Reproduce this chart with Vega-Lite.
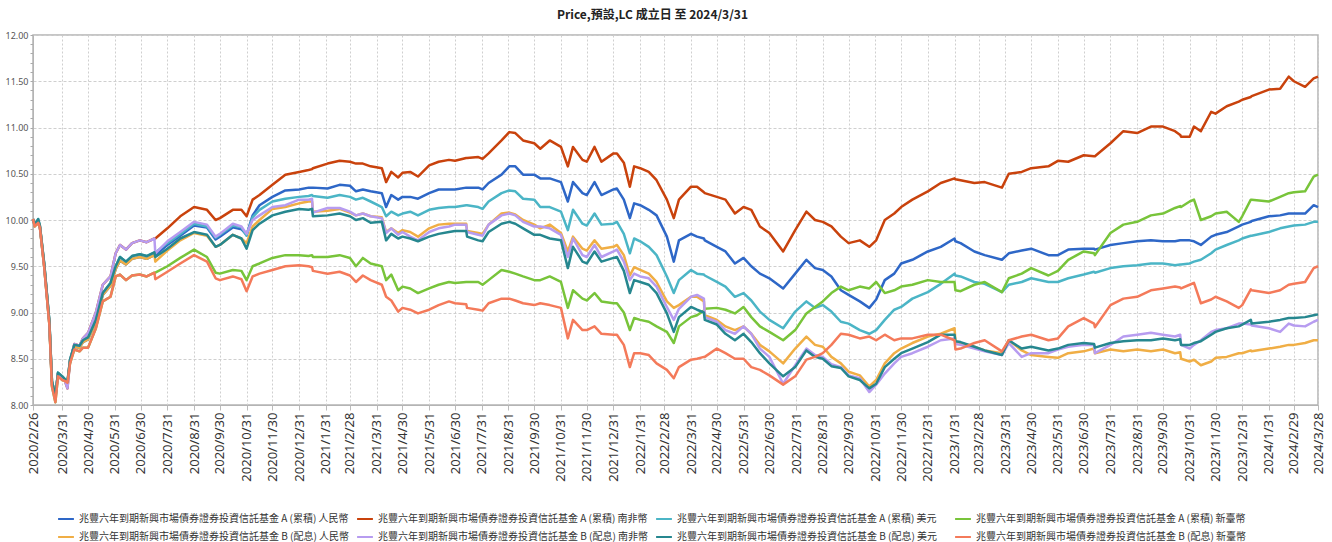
{
"$schema": "https://vega.github.io/schema/vega-lite/v6.json",
"width": 1285, "height": 370,
"autosize": {"type": "none"},
"padding": {"left": 33, "top": 35, "right": 14, "bottom": 137},
"background": "white",
"config": {"view": {"stroke": "#b4b4b4", "strokeWidth": 1.5}, "font": "Noto Sans"},
"title": {"text": "Price,預設,LC 成立日 至 2024/3/31", "font": "Noto Sans CJK TC", "fontSize": 12, "fontWeight": "bold", "color": "#222", "anchor": "middle", "dx": -23, "offset": 9},
"datasets": {"names": [
 {"k": "A1", "name": "兆豐六年到期新興市場債券證券投資信託基金 A (累積) 人民幣"},
 {"k": "A2", "name": "兆豐六年到期新興市場債券證券投資信託基金 A (累積) 南非幣"},
 {"k": "A3", "name": "兆豐六年到期新興市場債券證券投資信託基金 A (累積) 美元"},
 {"k": "A4", "name": "兆豐六年到期新興市場債券證券投資信託基金 A (累積) 新臺幣"},
 {"k": "B1", "name": "兆豐六年到期新興市場債券證券投資信託基金 B (配息) 人民幣"},
 {"k": "B2", "name": "兆豐六年到期新興市場債券證券投資信託基金 B (配息) 南非幣"},
 {"k": "B3", "name": "兆豐六年到期新興市場債券證券投資信託基金 B (配息) 美元"},
 {"k": "B4", "name": "兆豐六年到期新興市場債券證券投資信託基金 B (配息) 新臺幣"}
]},
"data": {"values": [
{"d":"2020-02-26","A1":10.01,"A2":10.01,"A3":10.01,"A4":10.01,"B1":10.01,"B2":10.01,"B3":10.01,"B4":10.01},
{"d":"2020-02-28","A1":9.95,"A2":9.94,"A3":9.95,"A4":9.93,"B1":9.95,"B2":9.94,"B3":9.95,"B4":9.93},
{"d":"2020-03-03","A1":9.99,"A2":9.98,"A3":10.01,"A4":9.97,"B1":9.99,"B2":9.98,"B3":10.01,"B4":9.97},
{"d":"2020-03-05","A1":9.93,"A2":9.92,"A3":9.94,"A4":9.92,"B1":9.93,"B2":9.92,"B3":9.94,"B4":9.92},
{"d":"2020-03-10","A1":9.52,"A2":9.50,"A3":9.53,"A4":9.49,"B1":9.52,"B2":9.50,"B3":9.53,"B4":9.49},
{"d":"2020-03-16","A1":8.90,"A2":8.88,"A3":8.91,"A4":8.87,"B1":8.90,"B2":8.88,"B3":8.91,"B4":8.87},
{"d":"2020-03-19","A1":8.25,"A2":8.22,"A3":8.26,"A4":8.20,"B1":8.25,"B2":8.22,"B3":8.26,"B4":8.20},
{"d":"2020-03-23","A1":8.10,"A2":8.07,"A3":8.10,"A4":8.03,"B1":8.10,"B2":8.07,"B3":8.10,"B4":8.03},
{"d":"2020-03-26","A1":8.34,"A2":8.34,"A3":8.35,"A4":8.31,"B1":8.34,"B2":8.34,"B3":8.35,"B4":8.31},
{"d":"2020-03-31","A1":8.30,"A2":8.28,"A3":8.31,"A4":8.27,"B1":8.30,"B2":8.28,"B3":8.31,"B4":8.27},
{"d":"2020-04-03","A1":8.27,"A2":8.26,"A3":8.28,"A4":8.26,"B1":8.27,"B2":8.26,"B3":8.28,"B4":8.26},
{"d":"2020-04-06","A1":8.24,"A2":8.18,"A3":8.25,"A4":8.24,"B1":8.24,"B2":8.18,"B3":8.25,"B4":8.24},
{"d":"2020-04-09","A1":8.48,"A2":8.47,"A3":8.49,"A4":8.45,"B1":8.48,"B2":8.47,"B3":8.49,"B4":8.45},
{"d":"2020-04-14","A1":8.63,"A2":8.66,"A3":8.65,"A4":8.60,"B1":8.63,"B2":8.66,"B3":8.65,"B4":8.60},
{"d":"2020-04-20","A1":8.62,"A2":8.64,"A3":8.64,"A4":8.58,"B1":8.62,"B2":8.64,"B3":8.64,"B4":8.58},
{"d":"2020-04-24","A1":8.68,"A2":8.72,"A3":8.70,"A4":8.62,"B1":8.68,"B2":8.72,"B3":8.70,"B4":8.62},
{"d":"2020-04-30","A1":8.71,"A2":8.78,"A3":8.73,"A4":8.62,"B1":8.71,"B2":8.78,"B3":8.73,"B4":8.62},
{"d":"2020-05-09","A1":8.90,"A2":9.00,"A3":8.92,"A4":8.83,"B1":8.90,"B2":9.00,"B3":8.92,"B4":8.83},
{"d":"2020-05-17","A1":9.19,"A2":9.30,"A3":9.21,"A4":9.12,"B1":9.19,"B2":9.30,"B3":9.21,"B4":9.12},
{"d":"2020-05-26","A1":9.29,"A2":9.39,"A3":9.32,"A4":9.17,"B1":9.29,"B2":9.39,"B3":9.32,"B4":9.17},
{"d":"2020-06-01","A1":9.47,"A2":9.64,"A3":9.50,"A4":9.39,"B1":9.47,"B2":9.64,"B3":9.50,"B4":9.39},
{"d":"2020-06-06","A1":9.56,"A2":9.73,"A3":9.60,"A4":9.41,"B1":9.56,"B2":9.73,"B3":9.60,"B4":9.41},
{"d":"2020-06-13","A1":9.52,"A2":9.68,"A3":9.55,"A4":9.35,"B1":9.52,"B2":9.68,"B3":9.55,"B4":9.35},
{"d":"2020-06-20","A1":9.58,"A2":9.75,"A3":9.61,"A4":9.40,"B1":9.58,"B2":9.75,"B3":9.61,"B4":9.40},
{"d":"2020-06-29","A1":9.60,"A2":9.78,"A3":9.63,"A4":9.41,"B1":9.60,"B2":9.78,"B3":9.63,"B4":9.41},
{"d":"2020-07-07","A1":9.58,"A2":9.76,"A3":9.61,"A4":9.39,"B1":9.58,"B2":9.76,"B3":9.61,"B4":9.39},
{"d":"2020-07-16","A1":9.62,"A2":9.80,"A3":9.65,"A4":9.43,"B1":9.62,"B2":9.80,"B3":9.65,"B4":9.43},
{"d":"2020-07-17","A2":9.80,"A1":9.62,"A3":9.65,"A4":9.43,"B1":9.55,"B2":9.64,"B3":9.60,"B4":9.36},
{"d":"2020-07-31","A2":9.91,"A1":9.73,"A3":9.75,"A4":9.50,"B1":9.67,"B2":9.77,"B3":9.69,"B4":9.44},
{"d":"2020-08-15","A2":10.04,"A1":9.83,"A3":9.85,"A4":9.59,"B1":9.78,"B2":9.87,"B3":9.80,"B4":9.53},
{"d":"2020-08-31","A2":10.14,"A1":9.94,"A3":9.96,"A4":9.68,"B1":9.86,"B2":9.98,"B3":9.87,"B4":9.62},
{"d":"2020-09-15","A2":10.11,"A1":9.92,"A3":9.93,"A4":9.60,"B1":9.83,"B2":9.95,"B3":9.84,"B4":9.55},
{"d":"2020-09-25","A2":10.00,"A1":9.79,"A3":9.81,"A4":9.43,"B1":9.71,"B2":9.82,"B3":9.71,"B4":9.37},
{"d":"2020-09-30","A2":10.02,"A1":9.82,"A3":9.84,"A4":9.42,"B1":9.73,"B2":9.85,"B3":9.73,"B4":9.35},
{"d":"2020-10-15","A2":10.11,"A1":9.92,"A3":9.94,"A4":9.46,"B1":9.84,"B2":9.96,"B3":9.84,"B4":9.39},
{"d":"2020-10-25","A2":10.11,"A1":9.90,"A3":9.92,"A4":9.45,"B1":9.80,"B2":9.93,"B3":9.80,"B4":9.36},
{"d":"2020-10-31","A2":10.04,"A1":9.84,"A3":9.83,"A4":9.35,"B1":9.75,"B2":9.85,"B3":9.69,"B4":9.23},
{"d":"2020-11-07","A2":10.22,"A1":10.05,"A3":10.03,"A4":9.50,"B1":9.93,"B2":10.00,"B3":9.89,"B4":9.39},
{"d":"2020-11-15","A2":10.27,"A1":10.16,"A3":10.11,"A4":9.53,"B1":10.00,"B2":10.05,"B3":9.96,"B4":9.42},
{"d":"2020-11-30","A2":10.38,"A1":10.25,"A3":10.20,"A4":9.59,"B1":10.12,"B2":10.14,"B3":10.05,"B4":9.46},
{"d":"2020-12-15","A2":10.49,"A1":10.32,"A3":10.23,"A4":9.62,"B1":10.14,"B2":10.16,"B3":10.09,"B4":9.50},
{"d":"2020-12-31","A2":10.52,"A1":10.33,"A3":10.25,"A4":9.62,"B1":10.18,"B2":10.22,"B3":10.12,"B4":9.51},
{"d":"2021-01-11","A2":10.54,"A1":10.35,"A3":10.26,"A4":9.61,"B1":10.20,"B2":10.22,"B3":10.11,"B4":9.50},
{"d":"2021-01-15","A2":10.55,"A1":10.35,"A3":10.27,"A4":9.62,"B1":10.20,"B2":10.23,"B3":10.12,"B4":9.49},
{"d":"2021-01-16","A2":10.56,"A1":10.35,"A3":10.26,"A4":9.60,"B1":10.09,"B2":10.08,"B3":10.04,"B4":9.45},
{"d":"2021-02-02","A2":10.61,"A1":10.34,"A3":10.24,"A4":9.60,"B1":10.10,"B2":10.13,"B3":10.05,"B4":9.42},
{"d":"2021-02-16","A2":10.64,"A1":10.38,"A3":10.27,"A4":9.62,"B1":10.12,"B2":10.13,"B3":10.07,"B4":9.44},
{"d":"2021-02-28","A2":10.63,"A1":10.37,"A3":10.25,"A4":9.59,"B1":10.08,"B2":10.09,"B3":10.04,"B4":9.40},
{"d":"2021-03-07","A2":10.61,"A1":10.31,"A3":10.22,"A4":9.50,"B1":10.05,"B2":10.05,"B3":10.00,"B4":9.33},
{"d":"2021-03-15","A2":10.61,"A1":10.33,"A3":10.24,"A4":9.59,"B1":10.07,"B2":10.07,"B3":10.02,"B4":9.40},
{"d":"2021-03-24","A2":10.58,"A1":10.31,"A3":10.20,"A4":9.53,"B1":10.04,"B2":10.04,"B3":9.97,"B4":9.35},
{"d":"2021-04-06","A2":10.56,"A1":10.29,"A3":10.14,"A4":9.50,"B1":10.03,"B2":10.02,"B3":9.98,"B4":9.30},
{"d":"2021-04-11","A2":10.41,"A1":10.14,"A3":10.04,"A4":9.35,"B1":9.87,"B2":9.86,"B3":9.78,"B4":9.17},
{"d":"2021-04-17","A2":10.52,"A1":10.27,"A3":10.09,"A4":9.41,"B1":9.91,"B2":9.91,"B3":9.85,"B4":9.13},
{"d":"2021-04-25","A2":10.46,"A1":10.22,"A3":10.05,"A4":9.24,"B1":9.86,"B2":9.84,"B3":9.80,"B4":9.01},
{"d":"2021-04-30","A2":10.51,"A1":10.25,"A3":10.07,"A4":9.28,"B1":9.89,"B2":9.87,"B3":9.82,"B4":9.05},
{"d":"2021-05-09","A2":10.52,"A1":10.25,"A3":10.09,"A4":9.26,"B1":9.87,"B2":9.82,"B3":9.80,"B4":9.03},
{"d":"2021-05-18","A2":10.47,"A1":10.23,"A3":10.05,"A4":9.21,"B1":9.82,"B2":9.78,"B3":9.77,"B4":8.99},
{"d":"2021-05-31","A2":10.59,"A1":10.29,"A3":10.11,"A4":9.26,"B1":9.91,"B2":9.87,"B3":9.82,"B4":9.03},
{"d":"2021-06-11","A2":10.63,"A1":10.33,"A3":10.13,"A4":9.30,"B1":9.95,"B2":9.91,"B3":9.85,"B4":9.08},
{"d":"2021-06-23","A2":10.65,"A1":10.33,"A3":10.14,"A4":9.33,"B1":9.96,"B2":9.93,"B3":9.87,"B4":9.12},
{"d":"2021-06-30","A2":10.64,"A1":10.33,"A3":10.14,"A4":9.32,"B1":9.96,"B2":9.95,"B3":9.88,"B4":9.10},
{"d":"2021-07-13","A2":10.67,"A1":10.35,"A3":10.16,"A4":9.33,"B1":9.96,"B2":9.95,"B3":9.88,"B4":9.09},
{"d":"2021-07-14","A2":10.67,"A1":10.35,"A3":10.16,"A4":9.33,"B1":9.88,"B2":9.87,"B3":9.82,"B4":9.05},
{"d":"2021-07-27","A2":10.68,"A1":10.35,"A3":10.14,"A4":9.33,"B1":9.86,"B2":9.84,"B3":9.78,"B4":9.03},
{"d":"2021-08-01","A2":10.66,"A1":10.33,"A3":10.12,"A4":9.30,"B1":9.85,"B2":9.83,"B3":9.77,"B4":9.02},
{"d":"2021-08-08","A2":10.72,"A1":10.40,"A3":10.20,"A4":9.35,"B1":9.95,"B2":9.95,"B3":9.87,"B4":9.10},
{"d":"2021-08-23","A2":10.86,"A1":10.49,"A3":10.29,"A4":9.46,"B1":10.07,"B2":10.05,"B3":9.96,"B4":9.15},
{"d":"2021-09-01","A2":10.95,"A1":10.58,"A3":10.32,"A4":9.44,"B1":10.08,"B2":10.07,"B3":9.98,"B4":9.15},
{"d":"2021-09-08","A2":10.94,"A1":10.58,"A3":10.31,"A4":9.42,"B1":10.06,"B2":10.05,"B3":9.96,"B4":9.13},
{"d":"2021-09-17","A2":10.86,"A1":10.49,"A3":10.23,"A4":9.39,"B1":10.00,"B2":9.98,"B3":9.91,"B4":9.10},
{"d":"2021-09-30","A2":10.83,"A1":10.49,"A3":10.22,"A4":9.35,"B1":9.95,"B2":9.93,"B3":9.84,"B4":9.08},
{"d":"2021-10-07","A2":10.77,"A1":10.45,"A3":10.14,"A4":9.35,"B1":9.91,"B2":9.93,"B3":9.84,"B4":9.10},
{"d":"2021-10-18","A2":10.86,"A1":10.45,"A3":10.14,"A4":9.39,"B1":9.95,"B2":9.91,"B3":9.80,"B4":9.08},
{"d":"2021-10-31","A2":10.79,"A1":10.41,"A3":10.09,"A4":9.33,"B1":9.86,"B2":9.84,"B3":9.78,"B4":9.05},
{"d":"2021-11-08","A2":10.58,"A1":10.20,"A3":9.89,"A4":9.05,"B1":9.66,"B2":9.60,"B3":9.48,"B4":8.72},
{"d":"2021-11-14","A2":10.79,"A1":10.41,"A3":10.11,"A4":9.24,"B1":9.82,"B2":9.80,"B3":9.71,"B4":8.92},
{"d":"2021-11-25","A2":10.65,"A1":10.29,"A3":9.96,"A4":9.15,"B1":9.69,"B2":9.62,"B3":9.55,"B4":8.81},
{"d":"2021-11-30","A2":10.63,"A1":10.27,"A3":9.94,"A4":9.13,"B1":9.67,"B2":9.60,"B3":9.53,"B4":8.81},
{"d":"2021-12-09","A2":10.79,"A1":10.41,"A3":10.07,"A4":9.21,"B1":9.78,"B2":9.73,"B3":9.66,"B4":8.85},
{"d":"2021-12-17","A2":10.63,"A1":10.27,"A3":9.95,"A4":9.12,"B1":9.69,"B2":9.60,"B3":9.55,"B4":8.77},
{"d":"2021-12-31","A2":10.72,"A1":10.33,"A3":9.96,"A4":9.10,"B1":9.71,"B2":9.66,"B3":9.59,"B4":8.76},
{"d":"2022-01-04","A2":10.72,"A1":10.34,"A3":9.98,"A4":9.10,"B1":9.73,"B2":9.68,"B3":9.60,"B4":8.76},
{"d":"2022-01-12","A2":10.62,"A1":10.22,"A3":9.85,"A4":9.00,"B1":9.62,"B2":9.55,"B3":9.45,"B4":8.65},
{"d":"2022-01-19","A2":10.36,"A1":10.02,"A3":9.64,"A4":8.81,"B1":9.40,"B2":9.35,"B3":9.21,"B4":8.41},
{"d":"2022-01-24","A2":10.58,"A1":10.18,"A3":9.80,"A4":8.94,"B1":9.49,"B2":9.42,"B3":9.35,"B4":8.56},
{"d":"2022-01-31","A2":10.56,"A1":10.16,"A3":9.77,"A4":8.92,"B1":9.46,"B2":9.39,"B3":9.33,"B4":8.56},
{"d":"2022-02-10","A2":10.52,"A1":10.11,"A3":9.71,"A4":8.90,"B1":9.42,"B2":9.37,"B3":9.30,"B4":8.54},
{"d":"2022-02-19","A2":10.43,"A1":10.05,"A3":9.62,"A4":8.85,"B1":9.33,"B2":9.28,"B3":9.21,"B4":8.45},
{"d":"2022-03-03","A2":10.22,"A1":9.82,"A3":9.39,"A4":8.79,"B1":9.12,"B2":9.06,"B3":8.99,"B4":8.38},
{"d":"2022-03-11","A2":10.02,"A1":9.55,"A3":9.21,"A4":8.67,"B1":9.05,"B2":8.92,"B3":8.79,"B4":8.29},
{"d":"2022-03-17","A2":10.22,"A1":9.78,"A3":9.35,"A4":8.85,"B1":9.08,"B2":9.04,"B3":8.95,"B4":8.41},
{"d":"2022-03-31","A2":10.36,"A1":9.85,"A3":9.46,"A4":8.95,"B1":9.17,"B2":9.17,"B3":9.06,"B4":8.49},
{"d":"2022-04-07","A2":10.36,"A1":9.82,"A3":9.42,"A4":8.97,"B1":9.17,"B2":9.19,"B3":9.03,"B4":8.50},
{"d":"2022-04-15","A2":10.30,"A1":9.80,"A3":9.41,"A4":9.02,"B1":9.12,"B2":9.15,"B3":9.00,"B4":8.52},
{"d":"2022-04-16","A2":10.29,"A1":9.78,"A3":9.40,"A4":9.04,"B1":8.97,"B2":8.95,"B3":8.92,"B4":8.52},
{"d":"2022-04-30","A2":10.25,"A1":9.71,"A3":9.33,"A4":9.05,"B1":8.92,"B2":8.90,"B3":8.87,"B4":8.61},
{"d":"2022-05-10","A2":10.22,"A1":9.66,"A3":9.28,"A4":9.03,"B1":8.85,"B2":8.81,"B3":8.77,"B4":8.56},
{"d":"2022-05-21","A2":10.07,"A1":9.53,"A3":9.17,"A4":8.99,"B1":8.81,"B2":8.77,"B3":8.70,"B4":8.50},
{"d":"2022-05-31","A2":10.14,"A1":9.59,"A3":9.21,"A4":9.06,"B1":8.85,"B2":8.85,"B3":8.77,"B4":8.50},
{"d":"2022-06-09","A2":10.11,"A1":9.50,"A3":9.13,"A4":8.95,"B1":8.77,"B2":8.77,"B3":8.68,"B4":8.41},
{"d":"2022-06-19","A2":9.93,"A1":9.42,"A3":9.01,"A4":8.85,"B1":8.65,"B2":8.61,"B3":8.56,"B4":8.38},
{"d":"2022-06-30","A2":9.86,"A1":9.37,"A3":8.92,"A4":8.79,"B1":8.58,"B2":8.52,"B3":8.45,"B4":8.32},
{"d":"2022-07-16","A2":9.66,"A1":9.26,"A3":8.83,"A4":8.70,"B1":8.45,"B2":8.23,"B3":8.31,"B4":8.22},
{"d":"2022-07-30","A2":9.89,"A1":9.42,"A3":9.01,"A4":8.81,"B1":8.61,"B2":8.43,"B3":8.41,"B4":8.31},
{"d":"2022-08-12","A2":10.09,"A1":9.57,"A3":9.12,"A4":8.99,"B1":8.74,"B2":8.61,"B3":8.59,"B4":8.49},
{"d":"2022-08-22","A2":10.00,"A1":9.48,"A3":9.05,"A4":9.06,"B1":8.65,"B2":8.54,"B3":8.52,"B4":8.52},
{"d":"2022-08-31","A2":9.98,"A1":9.46,"A3":9.08,"A4":9.12,"B1":8.63,"B2":8.52,"B3":8.50,"B4":8.56},
{"d":"2022-09-10","A2":9.93,"A1":9.39,"A3":9.01,"A4":9.21,"B1":8.52,"B2":8.44,"B3":8.42,"B4":8.65},
{"d":"2022-09-21","A2":9.82,"A1":9.24,"A3":8.90,"A4":9.28,"B1":8.45,"B2":8.41,"B3":8.40,"B4":8.77},
{"d":"2022-09-30","A2":9.75,"A1":9.19,"A3":8.88,"A4":9.24,"B1":8.36,"B2":8.32,"B3":8.31,"B4":8.76},
{"d":"2022-10-13","A2":9.78,"A1":9.12,"A3":8.81,"A4":9.28,"B1":8.32,"B2":8.29,"B3":8.27,"B4":8.72},
{"d":"2022-10-24","A2":9.71,"A1":9.05,"A3":8.77,"A4":9.26,"B1":8.20,"B2":8.14,"B3":8.18,"B4":8.74},
{"d":"2022-11-01","A2":9.78,"A1":9.14,"A3":8.81,"A4":9.33,"B1":8.27,"B2":8.22,"B3":8.23,"B4":8.70},
{"d":"2022-11-11","A2":10.00,"A1":9.35,"A3":8.92,"A4":9.21,"B1":8.45,"B2":8.34,"B3":8.41,"B4":8.76},
{"d":"2022-11-22","A2":10.07,"A1":9.42,"A3":9.03,"A4":9.24,"B1":8.56,"B2":8.45,"B3":8.50,"B4":8.70},
{"d":"2022-11-30","A2":10.14,"A1":9.53,"A3":9.06,"A4":9.28,"B1":8.61,"B2":8.52,"B3":8.56,"B4":8.72},
{"d":"2022-12-13","A2":10.22,"A1":9.57,"A3":9.15,"A4":9.30,"B1":8.67,"B2":8.56,"B3":8.61,"B4":8.72},
{"d":"2022-12-31","A2":10.31,"A1":9.66,"A3":9.22,"A4":9.35,"B1":8.74,"B2":8.63,"B3":8.68,"B4":8.76},
{"d":"2023-01-15","A2":10.40,"A1":9.71,"A3":9.31,"A4":9.33,"B1":8.77,"B2":8.70,"B3":8.76,"B4":8.76},
{"d":"2023-01-31","A2":10.45,"A1":9.80,"A3":9.42,"A4":9.33,"B1":8.83,"B2":8.72,"B3":8.76,"B4":8.70},
{"d":"2023-02-01","A2":10.44,"A1":9.77,"A3":9.40,"A4":9.24,"B1":8.69,"B2":8.66,"B3":8.69,"B4":8.60},
{"d":"2023-02-07","A2":10.43,"A1":9.75,"A3":9.39,"A4":9.23,"B1":8.67,"B2":8.65,"B3":8.68,"B4":8.61},
{"d":"2023-02-23","A2":10.40,"A1":9.66,"A3":9.33,"A4":9.30,"B1":8.63,"B2":8.61,"B3":8.63,"B4":8.67},
{"d":"2023-03-07","A2":10.41,"A1":9.62,"A3":9.31,"A4":9.33,"B1":8.59,"B2":8.58,"B3":8.59,"B4":8.70},
{"d":"2023-03-27","A2":10.35,"A1":9.57,"A3":9.22,"A4":9.22,"B1":8.56,"B2":8.54,"B3":8.54,"B4":8.58},
{"d":"2023-04-04","A2":10.50,"A1":9.64,"A3":9.30,"A4":9.37,"B1":8.70,"B2":8.67,"B3":8.70,"B4":8.70},
{"d":"2023-04-19","A2":10.52,"A1":9.67,"A3":9.33,"A4":9.42,"B1":8.59,"B2":8.52,"B3":8.61,"B4":8.74},
{"d":"2023-04-30","A2":10.56,"A1":9.69,"A3":9.37,"A4":9.48,"B1":8.54,"B2":8.56,"B3":8.63,"B4":8.76},
{"d":"2023-05-20","A2":10.58,"A1":9.62,"A3":9.33,"A4":9.40,"B1":8.52,"B2":8.56,"B3":8.59,"B4":8.70},
{"d":"2023-05-31","A2":10.64,"A1":9.62,"A3":9.33,"A4":9.45,"B1":8.51,"B2":8.60,"B3":8.61,"B4":8.72},
{"d":"2023-06-12","A2":10.63,"A1":9.68,"A3":9.37,"A4":9.57,"B1":8.56,"B2":8.63,"B3":8.65,"B4":8.85},
{"d":"2023-06-30","A2":10.70,"A1":9.69,"A3":9.41,"A4":9.66,"B1":8.58,"B2":8.65,"B3":8.67,"B4":8.94},
{"d":"2023-07-12","A2":10.69,"A1":9.69,"A3":9.44,"A4":9.64,"B1":8.61,"B2":8.65,"B3":8.66,"B4":8.88},
{"d":"2023-07-13","A2":10.69,"A1":9.68,"A3":9.43,"A4":9.62,"B1":8.56,"B2":8.56,"B3":8.62,"B4":8.84},
{"d":"2023-07-31","A2":10.83,"A1":9.73,"A3":9.48,"A4":9.86,"B1":8.60,"B2":8.65,"B3":8.67,"B4":9.08},
{"d":"2023-08-15","A2":10.96,"A1":9.75,"A3":9.50,"A4":9.95,"B1":8.58,"B2":8.74,"B3":8.69,"B4":9.15},
{"d":"2023-08-31","A2":10.94,"A1":9.77,"A3":9.51,"A4":9.98,"B1":8.60,"B2":8.76,"B3":8.70,"B4":9.17},
{"d":"2023-09-16","A2":11.01,"A1":9.78,"A3":9.53,"A4":10.05,"B1":8.58,"B2":8.78,"B3":8.70,"B4":9.24},
{"d":"2023-09-30","A2":11.01,"A1":9.77,"A3":9.53,"A4":10.07,"B1":8.60,"B2":8.76,"B3":8.72,"B4":9.26},
{"d":"2023-10-14","A2":10.96,"A1":9.77,"A3":9.51,"A4":10.13,"B1":8.56,"B2":8.74,"B3":8.70,"B4":9.28},
{"d":"2023-10-20","A2":10.92,"A1":9.78,"A3":9.52,"A4":10.15,"B1":8.57,"B2":8.76,"B3":8.71,"B4":9.27},
{"d":"2023-10-21","A2":10.90,"A1":9.78,"A3":9.52,"A4":10.14,"B1":8.50,"B2":8.65,"B3":8.65,"B4":9.26},
{"d":"2023-10-31","A2":10.90,"A1":9.78,"A3":9.53,"A4":10.20,"B1":8.47,"B2":8.61,"B3":8.65,"B4":9.30},
{"d":"2023-11-05","A2":11.01,"A1":9.77,"A3":9.55,"A4":10.22,"B1":8.49,"B2":8.65,"B3":8.67,"B4":9.32},
{"d":"2023-11-13","A2":10.96,"A1":9.73,"A3":9.57,"A4":10.00,"B1":8.43,"B2":8.70,"B3":8.69,"B4":9.10},
{"d":"2023-11-25","A2":11.17,"A1":9.82,"A3":9.64,"A4":10.04,"B1":8.47,"B2":8.79,"B3":8.76,"B4":9.14},
{"d":"2023-11-30","A2":11.15,"A1":9.84,"A3":9.68,"A4":10.07,"B1":8.51,"B2":8.81,"B3":8.79,"B4":9.17},
{"d":"2023-12-13","A2":11.23,"A1":9.87,"A3":9.73,"A4":10.09,"B1":8.52,"B2":8.83,"B3":8.83,"B4":9.12},
{"d":"2023-12-27","A2":11.28,"A1":9.93,"A3":9.78,"A4":9.98,"B1":8.56,"B2":8.88,"B3":8.85,"B4":9.05},
{"d":"2023-12-31","A2":11.30,"A1":9.95,"A3":9.80,"A4":10.04,"B1":8.56,"B2":8.88,"B3":8.87,"B4":9.08},
{"d":"2024-01-10","A2":11.33,"A1":9.98,"A3":9.83,"A4":10.22,"B1":8.59,"B2":8.87,"B3":8.92,"B4":9.25},
{"d":"2024-01-11","A2":11.34,"A1":9.99,"A3":9.83,"A4":10.22,"B1":8.58,"B2":8.86,"B3":8.88,"B4":9.24},
{"d":"2024-01-31","A2":11.41,"A1":10.04,"A3":9.87,"A4":10.20,"B1":8.61,"B2":8.83,"B3":8.90,"B4":9.21},
{"d":"2024-02-13","A2":11.42,"A1":10.05,"A3":9.91,"A4":10.25,"B1":8.63,"B2":8.79,"B3":8.92,"B4":9.24},
{"d":"2024-02-23","A2":11.55,"A1":10.07,"A3":9.93,"A4":10.29,"B1":8.65,"B2":8.88,"B3":8.94,"B4":9.30},
{"d":"2024-02-29","A2":11.50,"A1":10.07,"A3":9.94,"A4":10.30,"B1":8.65,"B2":8.86,"B3":8.94,"B4":9.31},
{"d":"2024-03-13","A2":11.44,"A1":10.07,"A3":9.95,"A4":10.31,"B1":8.67,"B2":8.85,"B3":8.95,"B4":9.33},
{"d":"2024-03-23","A2":11.53,"A1":10.16,"A3":9.98,"A4":10.47,"B1":8.70,"B2":8.90,"B3":8.97,"B4":9.48},
{"d":"2024-03-28","A2":11.55,"A1":10.14,"A3":9.98,"A4":10.49,"B1":8.70,"B2":8.92,"B3":8.98,"B4":9.50}
]},
"transform": [
 {"fold": ["A1","A2","A3","A4","B1","B2","B3","B4"], "as": ["k","v"]},
 {"lookup": "k", "from": {"data": {"name": "names"}, "key": "k", "fields": ["name"]}}
],
"mark": {"type": "line", "strokeWidth": 2.5, "strokeJoin": "round"},
"encoding": {
 "x": {"field": "d", "type": "temporal",
  "scale": {"type": "utc", "domain": [{"year":2020,"month":2,"date":26,"utc":true},{"year":2024,"month":3,"date":28,"utc":true}]},
  "axis": {"title": null, "format": "%Y/%-m/%-d", "labelAngle": -90, "labelFontSize": 13, "labelColor": "#333", "labelFont": "Noto Sans", "labelPadding": 2, "tickSize": 5, "tickColor": "#bbb", "domainColor": "#b4b4b4", "labelOverlap": false, "labelFlush": false, "labelBound": false, "grid": true, "gridColor": "#cfcfcf", "gridDash": [2,2],
   "values": [
    {"year":2020,"month":2,"date":26,"utc":true},
    {"year":2020,"month":3,"date":31,"utc":true},{"year":2020,"month":4,"date":30,"utc":true},{"year":2020,"month":5,"date":31,"utc":true},{"year":2020,"month":6,"date":30,"utc":true},{"year":2020,"month":7,"date":31,"utc":true},{"year":2020,"month":8,"date":31,"utc":true},{"year":2020,"month":9,"date":30,"utc":true},{"year":2020,"month":10,"date":31,"utc":true},{"year":2020,"month":11,"date":30,"utc":true},{"year":2020,"month":12,"date":31,"utc":true},
    {"year":2021,"month":1,"date":31,"utc":true},{"year":2021,"month":2,"date":28,"utc":true},{"year":2021,"month":3,"date":31,"utc":true},{"year":2021,"month":4,"date":30,"utc":true},{"year":2021,"month":5,"date":31,"utc":true},{"year":2021,"month":6,"date":30,"utc":true},{"year":2021,"month":7,"date":31,"utc":true},{"year":2021,"month":8,"date":31,"utc":true},{"year":2021,"month":9,"date":30,"utc":true},{"year":2021,"month":10,"date":31,"utc":true},{"year":2021,"month":11,"date":30,"utc":true},{"year":2021,"month":12,"date":31,"utc":true},
    {"year":2022,"month":1,"date":31,"utc":true},{"year":2022,"month":2,"date":28,"utc":true},{"year":2022,"month":3,"date":31,"utc":true},{"year":2022,"month":4,"date":30,"utc":true},{"year":2022,"month":5,"date":31,"utc":true},{"year":2022,"month":6,"date":30,"utc":true},{"year":2022,"month":7,"date":31,"utc":true},{"year":2022,"month":8,"date":31,"utc":true},{"year":2022,"month":9,"date":30,"utc":true},{"year":2022,"month":10,"date":31,"utc":true},{"year":2022,"month":11,"date":30,"utc":true},{"year":2022,"month":12,"date":31,"utc":true},
    {"year":2023,"month":1,"date":31,"utc":true},{"year":2023,"month":2,"date":28,"utc":true},{"year":2023,"month":3,"date":31,"utc":true},{"year":2023,"month":4,"date":30,"utc":true},{"year":2023,"month":5,"date":31,"utc":true},{"year":2023,"month":6,"date":30,"utc":true},{"year":2023,"month":7,"date":31,"utc":true},{"year":2023,"month":8,"date":31,"utc":true},{"year":2023,"month":9,"date":30,"utc":true},{"year":2023,"month":10,"date":31,"utc":true},{"year":2023,"month":11,"date":30,"utc":true},{"year":2023,"month":12,"date":31,"utc":true},
    {"year":2024,"month":1,"date":31,"utc":true},{"year":2024,"month":2,"date":29,"utc":true},{"year":2024,"month":3,"date":28,"utc":true}
   ]}},
 "y": {"field": "v", "type": "quantitative",
  "scale": {"domain": [8, 12], "nice": false, "zero": false},
  "axis": {"title": null, "values": [8,8.1,8.2,8.3,8.4,8.5,8.6,8.7,8.8,8.9,9,9.1,9.2,9.3,9.4,9.5,9.6,9.7,9.8,9.9,10,10.1,10.2,10.3,10.4,10.5,10.6,10.7,10.8,10.9,11,11.1,11.2,11.3,11.4,11.5,11.6,11.7,11.8,11.9,12],
   "labelExpr": "abs(datum.value*2 - round(datum.value*2)) < 0.01 ? format(datum.value, '.2f') : ''",
   "labelFontSize": 9, "labelColor": "#555", "labelFont": "Noto Sans", "labelPadding": 2, "labelOverlap": false, "labelFlush": false,
   "tickSize": 3, "tickColor": "#aaa", "domainColor": "#b4b4b4",
   "grid": true, "gridDash": [3,2],
   "gridColor": {"condition": {"test": "abs(datum.value*2 - round(datum.value*2)) < 0.01", "value": "#cfcfcf"}, "value": "transparent"}}},
 "color": {"field": "name", "type": "nominal",
  "scale": {"domain": [
   "兆豐六年到期新興市場債券證券投資信託基金 A (累積) 人民幣",
   "兆豐六年到期新興市場債券證券投資信託基金 B (配息) 人民幣",
   "兆豐六年到期新興市場債券證券投資信託基金 A (累積) 南非幣",
   "兆豐六年到期新興市場債券證券投資信託基金 B (配息) 南非幣",
   "兆豐六年到期新興市場債券證券投資信託基金 A (累積) 美元",
   "兆豐六年到期新興市場債券證券投資信託基金 B (配息) 美元",
   "兆豐六年到期新興市場債券證券投資信託基金 A (累積) 新臺幣",
   "兆豐六年到期新興市場債券證券投資信託基金 B (配息) 新臺幣"],
   "range": ["#2E67C7", "#F0AE45", "#C9420C", "#B79CF0", "#4BB5C6", "#26878F", "#78C43A", "#F47A5A"]},
  "legend": {"title": null, "orient": "none", "legendX": 24, "legendY": 475, "columns": 4, "gridAlign": "all", "symbolType": "stroke", "symbolSize": 250, "symbolStrokeWidth": 2, "labelFontSize": 10, "labelFont": "Noto Sans CJK TC", "labelColor": "#333", "labelLimit": 500, "columnPadding": 3, "rowPadding": 4, "labelOffset": 4, "padding": 0}}
}
}
